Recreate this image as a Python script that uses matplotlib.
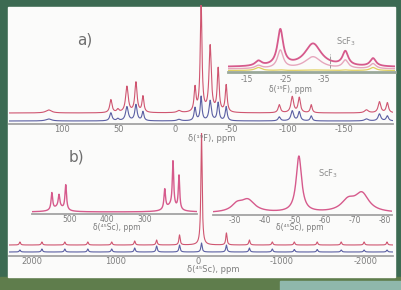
import matplotlib
matplotlib.use("Agg")
import matplotlib.pyplot as plt
import numpy as np
from matplotlib.patches import Rectangle

W, H = 401, 290

# ── panel a) : 19F MAS spectrum (two samples) ───────────────────────────────
F_PPM = [111.8, 56.8, 50.6, 42.6, 34.6, 28.4, -3.5, -17.7, -23.1, -31.1,
         -38.2, -45.3, -92.3, -103.8, -110.0, -120.6, -169.5, -181.0, -188.0]
F_RED = [3, 13, 3, 26, 30, 16, 2, 24, 110, 66, 43, 27, 8, 16, 15, 8, 3, 11, 10]
F_BLUE = [2, 8, 2, 14, 16, 9, 1.5, 13, 24, 20, 18, 14, 4, 10, 9, 5, 2, 7, 5]
F_WIDTH = [3, 1.2, 1.2, 1.4, 1.2, 1.0, 2, 1.0, 0.9, 1.2, 1.0, 1.0, 1.2, 1.4,
           1.2, 1.0, 2, 1.4, 1.2]
F_TICKS = [100, 50, 0, -50, -100, -150]

# inset of a) : zoom -10 .. -53 ppm
FI_PPM = [-17.9, -23.6, -32.1, -40.5, -47.7]
FI_PINK = [5, 36, 23, 14, 8]
FI_LIGHT = [3, 18, 12, 8, 5]
FI_YELLOW = [3, 0.5, 0.5, 0.5, 3]
FI_WIDTH = [1.0, 0.9, 2.6, 0.9, 0.9]
FI_TICKS = [-15, -25, -35]

# ── panel b) : 45Sc MAS spectrum with spinning sidebands ────────────────────
SC_PPM = [2144, 1880, 1605, 1329, 1042, 766, 503, 228, -36, -335, -611,
          -886, -1150, -1425, -1713, -1988, -2263]
SC_RED = [3, 3, 3, 3, 3, 4, 5, 10, 112, 12, 5, 3, 3, 3, 3, 3, 3]
SC_BLUE = [2, 3, 3, 3, 3, 4, 6, 7, 9, 7, 4, 3, 2.5, 2.5, 2, 2, 2]
SC_TICKS = [2000, 1000, 0, -1000, -2000]

# left inset of b)
SL_PPM = [548, 529, 511, 530, 247, 225, 209, 230]
SL_HEIGHT = [17, 12, 25, 5, 20, 45, 34, 6]
SL_WIDTH = [2.5, 2.5, 2.5, 16, 2.5, 2.2, 2.2, 16]
SL_TICKS = [500, 400, 300]

# right inset of b) : ScF3 region
SR_PPM = [-30.7, -34.3, -51.3, -67.7, -72.3]
SR_HEIGHT = [7, 12, 56, 11, 18]
SR_WIDTH = [2.2, 2.8, 1.1, 2.8, 2.8]
SR_TICKS = [-30, -40, -50, -60, -70, -80]

RED = "#cf5570"
BLUE = "#5b5fa3"
PINK = "#d65a8c"
GREY = "#8c8c8c"
LABEL = "#7d7d7d"


def spectrum(grid, centers, heights, widths):
    y = np.zeros_like(grid)
    for c, h, w in zip(centers, heights, widths):
        y += h * w ** 2 / ((grid - c) ** 2 + w ** 2)
    return y


def px_axes(fig, x0, x1, y_top, y_bot):
    ax = fig.add_axes([x0 / W, 1 - y_bot / H, (x1 - x0) / W, (y_bot - y_top) / H])
    ax.patch.set_visible(False)
    for side in ("top", "right", "left"):
        ax.spines[side].set_visible(False)
    ax.spines["bottom"].set_color("#a3a3a3")
    ax.spines["bottom"].set_linewidth(1.3)
    ax.set_yticks([])
    ax.tick_params(axis="x", length=0, pad=1, labelsize=6, labelcolor=LABEL)
    return ax


fig = plt.figure(figsize=(W / 100, H / 100), dpi=100)
fig.patch.set_facecolor("#3c6a52")
# bits of the photo around the slide
fig.add_artist(Rectangle((0, 0), 1, 13 / H, transform=fig.transFigure,
                         color="#5f7d4c", zorder=0))
fig.add_artist(Rectangle((280 / W, 0), 121 / W, 9 / H, transform=fig.transFigure,
                         color="#8fb8ac", zorder=0))
fig.add_artist(Rectangle((8 / W, 13 / H), 387 / W, 270 / H,
                         transform=fig.transFigure, color="#fbfbfa", zorder=0))

# panel a main
ax = px_axes(fig, 9, 393, 5, 124)
g = np.linspace(147, -193, 6000)
ax.plot(g, 3 + spectrum(g, F_PPM, F_BLUE, F_WIDTH), color=BLUE, lw=0.8)
ax.plot(g, 11 + spectrum(g, F_PPM, F_RED, F_WIDTH), color=RED, lw=0.8)
ax.set_xlim(147, -193)
ax.set_ylim(0, 119)
ax.set_xticks(F_TICKS)
ax.set_xticklabels([str(t) for t in F_TICKS])
fig.text(212 / W, 1 - 138 / H, "δ(¹⁹F), ppm", ha="center", va="center",
         fontsize=6, color=LABEL)
fig.text(85 / W, 1 - 40 / H, "a)", ha="center", va="center", fontsize=11,
         color="#6e6e6e")

# panel a inset
ai = px_axes(fig, 228, 395, 25, 72)
gi = np.linspace(-10, -53.4, 2000)
ai.plot(gi, 1.5 + spectrum(gi, FI_PPM, FI_YELLOW, FI_WIDTH), color="#e0d060", lw=0.9)
ai.plot(gi, 3 + spectrum(gi, FI_PPM, FI_LIGHT, FI_WIDTH), color="#e6a7bd", lw=1.0)
ai.plot(gi, 5 + spectrum(gi, FI_PPM, FI_PINK, FI_WIDTH), color=PINK, lw=1.3)
ai.vlines(-36.6, 4, 18, color=GREY, lw=0.6, linestyles="--")
ai.text(-38.0, 27, "ScF$_3$", fontsize=6, color=GREY)
ai.set_xlim(-10, -53.4)
ai.set_ylim(0, 47)
ai.spines["bottom"].set_color("#9aa89a")
ai.spines["bottom"].set_linewidth(2)
ai.set_xticks(FI_TICKS)
ai.set_xticklabels([str(t) for t in FI_TICKS])
ai.tick_params(labelsize=5.5, pad=2)
fig.text(290 / W, 1 - 89 / H, "δ(¹⁹F), ppm", ha="center", va="center",
         fontsize=5.5, color=LABEL)

# panel b main
bx = px_axes(fig, 9, 393, 133, 256)
gb = np.linspace(2275, -2335, 8000)
bx.plot(gb, 4 + spectrum(gb, SC_PPM, SC_BLUE, [9] * len(SC_PPM)), color=BLUE, lw=0.8)
bx.plot(gb, 11 + spectrum(gb, SC_PPM, SC_RED, [9] * len(SC_PPM)), color=RED, lw=0.8)
bx.set_xlim(2275, -2335)
bx.set_ylim(0, 123)
bx.set_xticks(SC_TICKS)
bx.set_xticklabels([str(t) for t in SC_TICKS])
bx.tick_params(pad=0.5)
fig.text(213 / W, 1 - 269 / H, "δ(⁴⁵Sc), ppm", ha="center", va="center",
         fontsize=6, color=LABEL)
fig.text(76 / W, 1 - 157 / H, "b)", ha="center", va="center", fontsize=11,
         color="#6e6e6e")

# panel b left inset
bl = px_axes(fig, 32, 197, 160, 214)
gl = np.linspace(601, 161, 3000)
bl.plot(gl, 2 + spectrum(gl, SL_PPM, SL_HEIGHT, SL_WIDTH), color=PINK, lw=1.0)
bl.set_xlim(601, 161)
bl.set_ylim(0, 54)
bl.set_xticks(SL_TICKS)
bl.set_xticklabels([str(t) for t in SL_TICKS])
bl.tick_params(labelsize=5.5, pad=0.5)
fig.text(117 / W, 1 - 227 / H, "δ(⁴⁵Sc), ppm", ha="center", va="center",
         fontsize=5.5, color=LABEL)

# panel b right inset
br = px_axes(fig, 213, 392, 150, 215)
gr = np.linspace(-22.7, -82.3, 2000)
br.plot(gr, 2 + spectrum(gr, SR_PPM, SR_HEIGHT, SR_WIDTH), color=PINK, lw=1.0)
br.text(-57.5, 38, "ScF$_3$", fontsize=6, color=GREY)
br.set_xlim(-22.7, -82.3)
br.set_ylim(0, 65)
br.set_xticks(SR_TICKS)
br.set_xticklabels([str(t) for t in SR_TICKS])
br.tick_params(labelsize=5.5, pad=0.5)
fig.text(300 / W, 1 - 228 / H, "δ(⁴⁵Sc), ppm", ha="center", va="center",
         fontsize=5.5, color=LABEL)

fig.savefig("out.png", dpi=100, facecolor=fig.get_facecolor())
